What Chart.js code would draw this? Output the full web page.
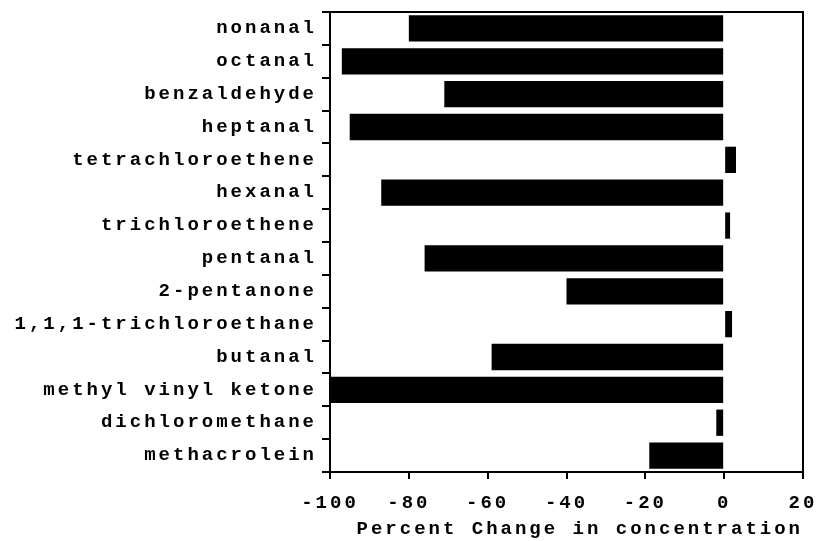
<!DOCTYPE html>
<html>
<head>
<meta charset="utf-8">
<script src="https://cdn.jsdelivr.net/npm/chart.js@4.4.1/dist/chart.umd.min.js"></script>
<style>
  html, body { margin: 0; padding: 0; background: #fff; }
  #wrap { width: 818px; height: 541px; position: relative; }
</style>
</head>
<body>
<div id="wrap"><canvas id="bar-chart"></canvas></div>
<script>
const compounds = [
  "nonanal", "octanal", "benzaldehyde", "heptanal", "tetrachloroethene",
  "hexanal", "trichloroethene", "pentanal", "2-pentanone",
  "1,1,1-trichloroethane", "butanal", "methyl vinyl ketone",
  "dichloromethane", "methacrolein"
];
const percentChange = [-80, -97, -71, -95, 3, -87, 1.5, -76, -40, 2, -59, -100, -2, -19];
const xTicks = [-100, -80, -60, -40, -20, 0, 20];

const FONT = { family: "'Liberation Mono', 'DejaVu Sans Mono', monospace", size: 19, weight: "bold" };

// typewriter look: widen letter spacing on every draw / measure pass
const spacing = {
  id: "spacing",
  beforeLayout(chart) { chart.ctx.letterSpacing = "3px"; },
  beforeDraw(chart) { chart.ctx.letterSpacing = "3px"; }
};

// box around the plot
const frame = {
  id: "frame",
  afterDraw(chart) {
    const { ctx, chartArea: a } = chart;
    ctx.save();
    ctx.strokeStyle = "#000";
    ctx.lineWidth = 2;
    ctx.strokeRect(a.left, a.top, a.right - a.left, a.bottom - a.top);
    ctx.restore();
  }
};

let config = {
  type: "bar",
  data: {
    labels: compounds,
    datasets: [
      {
        label: "Percent Change",
        backgroundColor: "#000",
        borderWidth: 0,
        data: percentChange,
        barPercentage: 0.8,
        categoryPercentage: 1.0,
      },
    ],
  },
  options: {
    indexAxis: "y",
    responsive: false,
    animation: false,
    layout: { padding: { top: 12, right: 15, left: 0, bottom: 0 } },
    plugins: { legend: { display: false }, tooltip: { enabled: false } },
    scales: {
      x: {
        min: -100,
        max: 20,
        afterBuildTicks(scale) { scale.ticks = xTicks.map((v) => ({ value: v })); },
        afterFit(scale) {
          scale.height = 69;
          scale.paddingLeft = 0;
          scale.paddingRight = 0;
        },
        grid: { drawOnChartArea: false, drawTicks: true, tickLength: 7, color: "#000", lineWidth: 2 },
        border: { display: true, color: "#000", width: 2 },
        ticks: { color: "#000", font: FONT, padding: 13, maxRotation: 0 },
        title: { display: true, align: "end", text: "Percent Change in concentration", color: "#000", font: FONT, padding: { top: 4, bottom: 0 } },
      },
      y: {
        afterFit(scale) {
          scale.width = 330;
          scale.paddingTop = 0;
          scale.paddingBottom = 0;
        },
        grid: { drawOnChartArea: false, drawTicks: true, tickLength: 8, color: "#000", lineWidth: 2, offset: true },
        border: { display: true, color: "#000", width: 2 },
        ticks: { color: "#000", font: FONT, padding: 5, autoSkip: false },
      },
    },
  },
  plugins: [spacing, frame],
};

const canvas = document.getElementById("bar-chart");
canvas.width = 818;
canvas.height = 541;
new Chart(canvas.getContext("2d"), config);
</script>
</body>
</html>
